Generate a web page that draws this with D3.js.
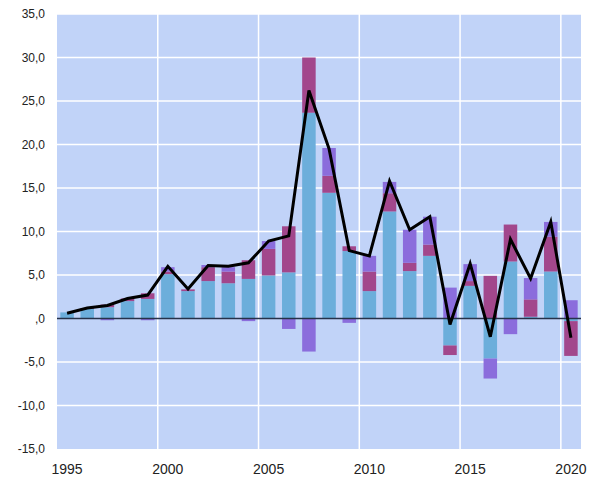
<!DOCTYPE html>
<html>
<head>
<meta charset="utf-8">
<script src="https://cdn.jsdelivr.net/npm/d3@7.9.0/dist/d3.min.js"></script>
<style>
  body { margin: 0; background: #fff; }
  svg { display: block; font-family: "Liberation Sans", Arial, sans-serif; }
</style>
</head>
<body>
<svg id="chart" width="599" height="477"></svg>
<script>
const years = d3.range(1995, 2021);
const blue    = [0.7, 1.1, 1.3, 2.0, 2.25, 5.1, 3.15, 4.3, 4.05, 4.55, 4.95, 5.3, 23.65, 14.45, 7.75, 3.15, 12.3, 5.45, 7.2, -3.1, 3.75, -4.6, 6.55, 0.2, 5.4, -0.3];
const magenta = [0, 0.1, 0.3, 0.3, 0.65, 0.3, 0.2, 1.6, 1.35, 2.15, 3.05, 5.3, 6.35, 1.95, 0.55, 2.25, 2.1, 0.95, 1.3, -1.1, 0.55, 4.9, 4.25, 2.0, 4.0, -4.0];
const purple  = [0, 0, -0.2, 0, -0.2, 0.5, 0, 0.25, 0.5, -0.3, 0.9, -1.2, -3.8, 3.2, -0.5, 1.8, 1.3, 3.8, 3.2, 3.55, 1.95, -2.3, -1.8, 2.45, 1.7, 2.1];
const total   = [0.6, 1.2, 1.5, 2.3, 2.7, 6.0, 3.4, 6.1, 6.0, 6.4, 8.9, 9.5, 26.2, 19.5, 7.8, 7.2, 15.8, 10.2, 11.7, -0.7, 6.3, -2.1, 9.1, 4.6, 11.1, -2.2];
const yTicks = [-15, -10, -5, 0, 5, 10, 15, 20, 25, 30, 35];
const xLabels = [1995, 2000, 2005, 2010, 2015, 2020];

const keys = ['blue', 'magenta', 'purple'];
const colors = { blue: '#6caedb', magenta: '#a2478c', purple: '#8b6ddc' };

const margin = { left: 57, right: 18, top: 14, bottom: 28 };
const width = 599, height = 477;
const svg = d3.select('#chart');

const x = d3.scaleBand().domain(years).range([margin.left, width - margin.right]).paddingInner(0.33).paddingOuter(0.165);
const y = d3.scaleLinear().domain([-15, 35]).range([height - margin.bottom, margin.top]);
const step = x.step();

// background
svg.append('rect')
  .attr('x', margin.left).attr('y', margin.top)
  .attr('width', width - margin.right - margin.left)
  .attr('height', y(-15) - margin.top)
  .attr('fill', '#c1d3f8');

// horizontal grid
svg.append('g').selectAll('line')
  .data(yTicks.filter(d => d !== 0 && d !== -15))
  .join('line')
  .attr('x1', margin.left).attr('x2', width - margin.right)
  .attr('y1', d => y(d)).attr('y2', d => y(d))
  .attr('stroke', '#fff').attr('stroke-width', 1.5);

// vertical grid at 5-year band starts
svg.append('g').selectAll('line')
  .data(xLabels.slice(1))
  .join('line')
  .attr('x1', d => x(d) - (step - x.bandwidth()) / 2)
  .attr('x2', d => x(d) - (step - x.bandwidth()) / 2)
  .attr('y1', margin.top).attr('y2', y(-15))
  .attr('stroke', '#fff').attr('stroke-width', 1.5);

// stacked bars
const table = years.map((yr, i) => ({ year: yr, blue: blue[i], magenta: magenta[i], purple: purple[i] }));
const series = d3.stack().keys(keys).offset(d3.stackOffsetDiverging)(table);

svg.append('g').selectAll('g')
  .data(series)
  .join('g')
  .attr('fill', d => colors[d.key])
  .selectAll('rect')
  .data(d => d)
  .join('rect')
  .attr('x', d => x(d.data.year))
  .attr('width', x.bandwidth())
  .attr('y', d => y(Math.max(d[0], d[1])))
  .attr('height', d => Math.abs(y(d[0]) - y(d[1])));

// zero line
svg.append('line')
  .attr('x1', margin.left).attr('x2', width - margin.right)
  .attr('y1', y(0)).attr('y2', y(0))
  .attr('stroke', '#26324a').attr('stroke-width', 1.5);

// total line
const line = d3.line()
  .x((d, i) => x(years[i]) + x.bandwidth() / 2)
  .y(d => y(d));
svg.append('path')
  .datum(total)
  .attr('d', line)
  .attr('fill', 'none')
  .attr('stroke', '#000')
  .attr('stroke-width', 3)
  .attr('stroke-linejoin', 'miter');

// y labels
const fmt = v => v === 0 ? ',0' : d3.format('.1f')(v).replace('.', ',').replace('−', '-');
svg.append('g').selectAll('text')
  .data(yTicks)
  .join('text')
  .attr('x', 45)
  .attr('y', d => y(d))
  .attr('dy', '0.35em')
  .attr('text-anchor', 'end')
  .attr('font-size', 12)
  .attr('fill', '#222')
  .text(fmt);

// x labels
svg.append('g').selectAll('text')
  .data(xLabels)
  .join('text')
  .attr('x', d => x(d) + x.bandwidth() / 2)
  .attr('y', 474)
  .attr('text-anchor', 'middle')
  .attr('font-size', 14)
  .attr('fill', '#222')
  .text(d => d);
</script>
</body>
</html>
